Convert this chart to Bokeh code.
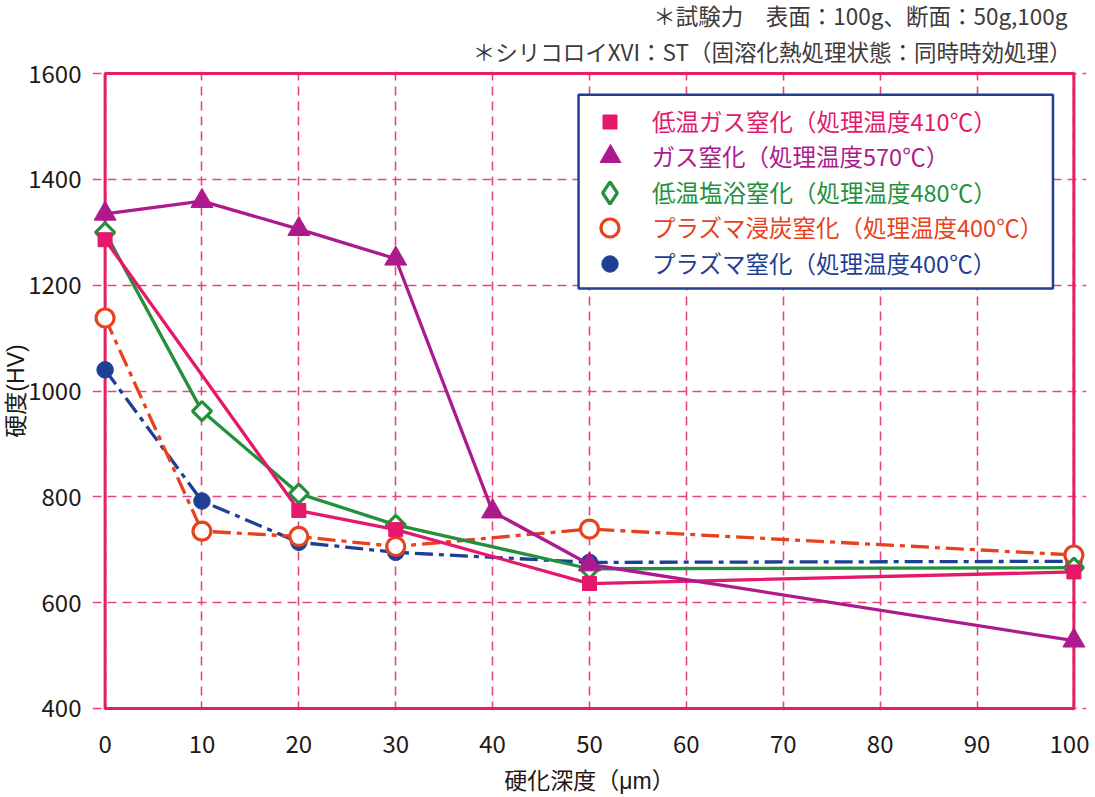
import numpy as np
from bokeh.plotting import figure
from bokeh.models import Range1d, FixedTicker, BoxAnnotation, Legend, LegendItem, Title
from bokeh.embed import file_html
from bokeh.resources import INLINE

# ---------------- data ----------------
depth_lt_gas = [0, 20, 30, 50, 100]
hv_lt_gas = [1286, 774, 738, 636, 658]

depth_gas = [0, 10, 20, 30, 40, 50, 100]
hv_gas = [1335, 1359, 1306, 1250, 772, 672, 528]

depth_salt = [0, 10, 20, 30, 50, 100]
hv_salt = [1300, 962, 806, 747, 664, 666]

depth_pcn = [0, 10, 20, 30, 50, 100]
hv_pcn = [1138, 735, 725, 706, 739, 690]

depth_pn = [0, 10, 20, 30, 50, 100]
hv_pn = [1040, 792, 714, 695, 676, 678]

x_ticks = [0, 10, 20, 30, 40, 50, 60, 70, 80, 90, 100]
y_ticks = [400, 600, 800, 1000, 1200, 1400, 1600]

series_names = [
    "低温ガス窒化（処理温度410℃）",
    "ガス窒化（処理温度570℃）",
    "低温塩浴窒化（処理温度480℃）",
    "プラズマ浸炭窒化（処理温度400℃）",
    "プラズマ窒化（処理温度400℃）",
]
note_lines = [
    "＊試験力　表面：100g、断面：50g,100g",
    "＊シリコロイXVI：ST（固溶化熱処理状態：同時時効処理）",
]
x_title = "硬化深度（μm）"
y_title = "硬度(HV)"

# ---------------- style ----------------
FONT = "Noto Sans CJK JP"
LABEL_FONT = "Liberation Sans, Noto Sans CJK JP"
PINK = "#E5186B"
PURPLE = "#AD1A8E"
GREEN = "#23903C"
ORANGE = "#E8421D"
BLUE = "#1E3F94"
FRAME = "#E61E63"
GRIDC = "#E8457F"
TXT = "#231815"
NOTE = "#3E3A39"

p = figure(width=1089, height=796, output_backend="svg", toolbar_location=None,
           x_range=Range1d(-1.3, 101.3), y_range=Range1d(396, 1604),
           min_border_left=91, min_border_right=3, min_border_top=71, min_border_bottom=85)
p.outline_line_color = None
p.background_fill_color = "white"

for ax in (p.xaxis[0], p.yaxis[0]):
    ax.axis_line_color = None
    ax.major_tick_line_color = None
    ax.minor_tick_line_color = None
    ax.major_tick_out = 0
    ax.major_tick_in = 0
    ax.minor_tick_out = 0
    ax.major_label_text_font = FONT
    ax.major_label_text_font_size = "24px"
    ax.major_label_text_color = TXT
    ax.axis_label_text_font = LABEL_FONT
    ax.axis_label_text_font_size = "23px"
    ax.axis_label_text_font_style = "normal"
    ax.axis_label_text_color = TXT
p.xaxis[0].ticker = FixedTicker(ticks=x_ticks)
p.yaxis[0].ticker = FixedTicker(ticks=y_ticks)
p.xaxis[0].major_label_standoff = 24
p.yaxis[0].major_label_standoff = 11
p.xaxis[0].axis_label = x_title
p.yaxis[0].axis_label = y_title
p.xaxis[0].axis_label_standoff = 12
p.yaxis[0].axis_label_standoff = -4

p.xgrid[0].ticker = FixedTicker(ticks=x_ticks)
p.ygrid[0].ticker = FixedTicker(ticks=y_ticks)
for g in (p.xgrid[0], p.ygrid[0]):
    g.grid_line_color = GRIDC
    g.grid_line_width = 1.6
    g.grid_line_dash = "9 6"
p.xgrid[0].bounds = (y_ticks[0], y_ticks[-1])
p.ygrid[0].bounds = (x_ticks[0], x_ticks[-1])

frame_box = BoxAnnotation(left=x_ticks[0], right=x_ticks[-1], bottom=y_ticks[0], top=y_ticks[-1],
                          fill_alpha=0, line_color=FRAME, line_alpha=1, line_width=3,
                          level="underlay")
p.add_layout(frame_box)

# ---------------- series ----------------
lw = 3.3
p.line(depth_pn, hv_pn, color=BLUE, line_width=lw, line_dash="18 6 5 6")
r_pn = p.scatter(depth_pn, hv_pn, marker="circle", size=16.5, fill_color=BLUE, line_color=BLUE)

p.line(depth_pcn, hv_pcn, color=ORANGE, line_width=lw, line_dash="18 6 5 6")
r_pcn = p.scatter(depth_pcn, hv_pcn, marker="circle", size=18, fill_color="white",
                  line_color=ORANGE, line_width=3.2)

p.line(depth_salt, hv_salt, color=GREEN, line_width=lw)
r_salt = p.scatter(depth_salt, hv_salt, marker="square", angle=np.pi / 4, size=13.5,
                   fill_color="white", line_color=GREEN, line_width=3.2)
# hidden twin used only for the legend key (legend keys ignore marker rotation)
r_salt_key = p.scatter(depth_salt, hv_salt, marker="diamond", size=22, fill_color="white",
                       line_color=GREEN, line_width=3.2, visible=False)

p.line(depth_lt_gas, hv_lt_gas, color=PINK, line_width=lw)
r_lt = p.scatter(depth_lt_gas, hv_lt_gas, marker="square", size=14, fill_color=PINK, line_color=PINK)

p.line(depth_gas, hv_gas, color=PURPLE, line_width=lw)
r_gas = p.scatter(depth_gas, hv_gas, marker="triangle", size=22, fill_color=PURPLE, line_color=PURPLE)

# ---------------- legend ----------------
legend_box = BoxAnnotation(left=48.87, right=97.84, bottom=1194, top=1560,
                           fill_color="white", fill_alpha=1, line_color=BLUE, line_alpha=1,
                           line_width=2.5)
p.add_layout(legend_box)

entries = [
    (series_names[0], r_lt, PINK, 35, 589),
    (series_names[1], r_gas, PURPLE, 52, 554),
    (series_names[2], r_salt_key, GREEN, 55, 518),
    (series_names[3], r_pcn, ORANGE, 45, 483),
    (series_names[4], r_pn, BLUE, 41, 447),
]
for name, rend, col, G, yc in entries:
    lg = Legend(items=[LegendItem(label=name, renderers=[rend])],
                location=(517.5 - G / 2, yc - G / 2),
                glyph_width=G, glyph_height=G, label_standoff=int(round(42.5 - G / 2)),
                padding=0, margin=0, spacing=0,
                border_line_color=None, background_fill_alpha=0,
                inactive_fill_alpha=0,
                label_text_font=FONT, label_text_font_size="23.5px", label_text_color=col)
    p.add_layout(lg, "center")

# ---------------- notes above the frame ----------------
t2 = Title(text=note_lines[1], align="right", offset=15, standoff=3,
           text_font=FONT, text_font_size="22.5px", text_font_style="normal", text_color=NOTE)
t1 = Title(text=note_lines[0], align="right", offset=19, standoff=0,
           text_font=FONT, text_font_size="22.5px", text_font_style="normal", text_color=NOTE)
try:
    t1.standoff = -7
    t2.standoff = 10
except Exception:
    t1.standoff = 0
    t2.standoff = 3
p.add_layout(t2, "above")
p.add_layout(t1, "above")

open("out.html", "w").write(file_html(p, INLINE))
